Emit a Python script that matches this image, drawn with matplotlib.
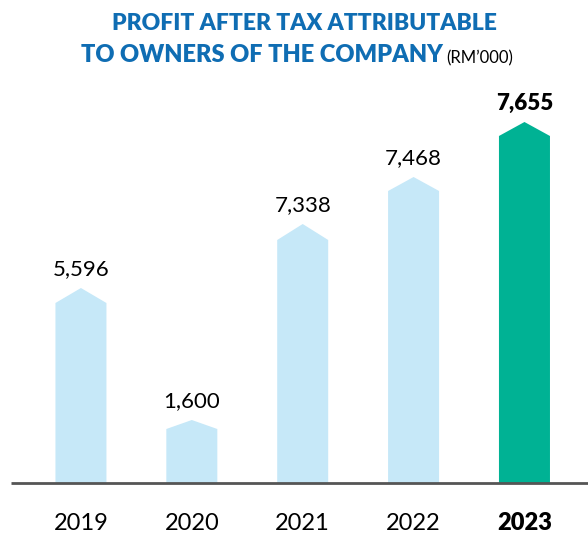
import matplotlib
matplotlib.use("Agg")
import matplotlib.pyplot as plt

# Data
years = ["2019", "2020", "2021", "2022", "2023"]
values = [5596, 1600, 7338, 7468, 7655]
# the printed bars are not to scale, so the drawn heights are read off the picture
bar_heights = [180, 54, 243, 292, 347]
cap_heights = [15, 9, 16, 14, 14]
highlight = "2023"

light_blue = "#C6E8F8"
teal = "#00B294"
title_blue = "#0F6DB3"

plt.rcParams['font.family'] = ['Lato', 'DejaVu Sans']

fig = plt.figure(figsize=(5.88, 5.35), dpi=100)
ax = fig.add_axes([0, 52 / 535, 1, 483 / 535])
ax.set_xlim(-0.73, 4.573)
ax.set_ylim(0, 483)
ax.axis("off")

half = 0.23
for i, (yr, v, h, c) in enumerate(zip(years, values, bar_heights, cap_heights)):
    col = teal if yr == highlight else light_blue
    xs = [i - half, i - half, i, i + half, i + half]
    ys = [0, h, h + c, h, 0]
    ax.fill(xs, ys, color=col, lw=0)
    bold = yr == highlight
    ax.text(i, h + c + 19, f"{v:,}", ha="center", va="center", fontsize=16,
            fontweight="heavy" if bold else "normal", color="black")
    ax.text(i, -40, yr, ha="center", va="center", fontsize=17,
            fontweight="heavy" if bold else "normal", color="black", clip_on=False)

ax.hlines(0, -0.63, 4.573, color="#555555", lw=2, clip_on=False)

fig.text(0.517, 1 - 24 / 535, "PROFIT AFTER TAX ATTRIBUTABLE", ha="center", va="center",
         fontsize=16.5, fontweight="heavy", color=title_blue)
fig.text(443 / 588, 1 - 55 / 535, "TO OWNERS OF THE COMPANY", ha="right", va="center",
         fontsize=17, fontweight="heavy", color=title_blue)
fig.text(446 / 588, 1 - 58 / 535, "(RM\u2019000)", ha="left", va="center",
         fontsize=12, color="black")

fig.savefig("out.png", dpi=100)
